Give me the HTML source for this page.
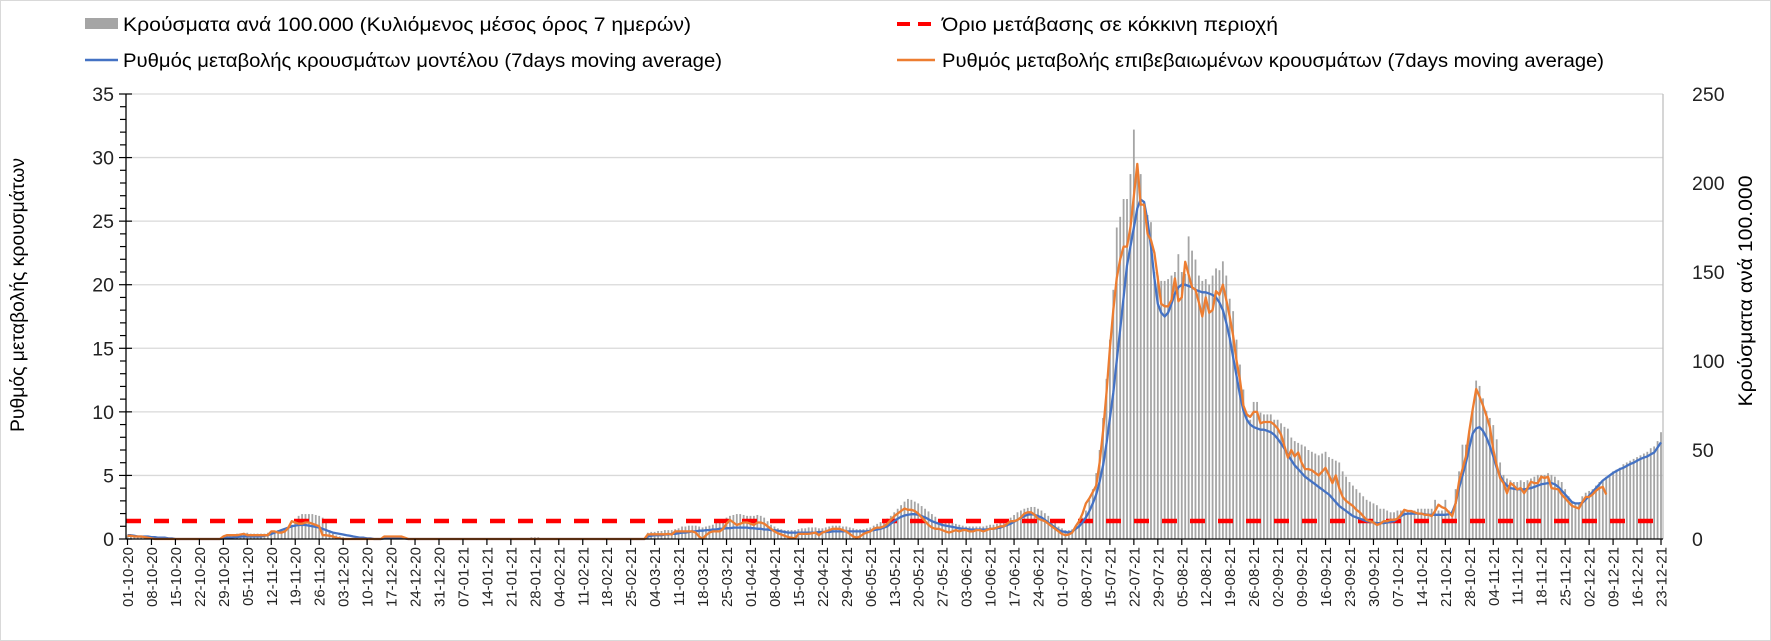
<!DOCTYPE html>
<html><head><meta charset="utf-8"><style>
html,body{margin:0;padding:0;background:#fff;}
svg{display:block;font-family:"Liberation Sans",Arial,sans-serif;}
</style></head><body>
<svg id="chart" width="1771" height="641" viewBox="0 0 1771 641" xmlns="http://www.w3.org/2000/svg">
<rect x="0.5" y="0.5" width="1770" height="640" fill="#fff" stroke="#d9d9d9"/>
<g id="grid"></g>
<g id="bars"></g>
<g id="lines"></g>
<g id="axes"></g>
<g>
  <rect x="85" y="18" width="33" height="11" fill="#a5a5a5"/>
  <text x="123" y="31" font-size="19" textLength="568" lengthAdjust="spacingAndGlyphs">Κρούσματα ανά 100.000 (Κυλιόμενος μέσος όρος 7 ημερών)</text>
  <line x1="85" y1="60" x2="118" y2="60" stroke="#4472c4" stroke-width="2.5"/>
  <text x="123" y="67" font-size="19" textLength="599" lengthAdjust="spacingAndGlyphs">Ρυθμός μεταβολής κρουσμάτων μοντέλου (7days moving average)</text>
  <line x1="897" y1="24" x2="935" y2="24" stroke="#ff0000" stroke-width="4" stroke-dasharray="13,8"/>
  <text x="942" y="31" font-size="19" textLength="336" lengthAdjust="spacingAndGlyphs">Όριο μετάβασης σε κόκκινη περιοχή</text>
  <line x1="897" y1="60" x2="935" y2="60" stroke="#ed7d31" stroke-width="2.5"/>
  <text x="942" y="67" font-size="19" textLength="662" lengthAdjust="spacingAndGlyphs">Ρυθμός μεταβολής επιβεβαιωμένων κρουσμάτων (7days moving average)</text>
</g>
<text transform="translate(24,295) rotate(-90)" text-anchor="middle" font-size="19" textLength="274" lengthAdjust="spacingAndGlyphs">Ρυθμός μεταβολής κρουσμάτων</text>
<text transform="translate(1752,291) rotate(-90)" text-anchor="middle" font-size="19" textLength="231" lengthAdjust="spacingAndGlyphs">Κρούσματα ανά 100.000</text>
</svg>
<script>
const leftTicks=[0,5,10,15,20,25,30,35];
const rightTicks=[0,50,100,150,200,250];
const threshold=[1.42];
const blueVals=[
0.3,0.3,0.25,0.2,0.2,0.2,0.2,0.15,0.15,0.1,
0.1,0.1,0.05,0.05,0,0,0,0,0,0,
0,0,0,0,0,0,0,0,0.05,0.1,
0.1,0.15,0.15,0.2,0.2,0.2,0.2,0.2,0.2,0.2,
0.25,0.3,0.4,0.5,0.6,0.7,0.8,0.9,1.0,1.05,
1.1,1.1,1.1,1.05,1.0,0.95,0.9,0.8,0.7,0.6,
0.5,0.45,0.4,0.35,0.3,0.25,0.2,0.15,0.1,0.1,
0.05,0.05,0,0,0,0.05,0.1,0.1,0.1,0.1,
0.1,0.05,0,0,0,0,0,0,0,0,
0,0,0,0,0,0,0,0,0,0,
0,0,0,0,0,0,0,0,0,0,
0,0,0,0,0,0,0,0,0,0,
0,0,0,0,0,0,0,0,0,0,
0,0,0,0,0,0,0,0,0,0,
0,0,0,0,0,0,0,0,0,0,
0,0,0.2,0.25,0.3,0.3,0.3,0.35,0.35,0.4,
0.4,0.45,0.5,0.5,0.55,0.6,0.6,0.65,0.65,0.7,
0.7,0.75,0.75,0.8,0.8,0.85,0.85,0.9,0.9,0.9,
0.9,0.9,0.85,0.85,0.8,0.8,0.75,0.75,0.7,0.7,
0.65,0.6,0.55,0.5,0.5,0.5,0.5,0.5,0.5,0.5,
0.5,0.5,0.55,0.55,0.55,0.55,0.6,0.6,0.6,0.6,
0.6,0.6,0.6,0.6,0.6,0.6,0.6,0.65,0.7,0.75,
0.8,0.9,1.0,1.2,1.4,1.6,1.75,1.85,1.9,1.95,
1.95,1.9,1.8,1.7,1.55,1.4,1.3,1.2,1.1,1.05,
1.0,0.95,0.9,0.85,0.8,0.8,0.75,0.75,0.75,0.75,
0.75,0.75,0.8,0.8,0.85,0.9,1.0,1.1,1.2,1.35,
1.5,1.65,1.8,1.9,1.95,1.9,1.8,1.7,1.5,1.3,
1.1,0.9,0.7,0.6,0.55,0.5,0.6,0.8,1.0,1.3,
1.7,2.2,2.8,3.5,4.5,5.8,7.5,9.5,11.5,14,
16.5,19,21.5,23,24.5,26,26.7,26.5,25,23,
20.5,18.5,17.8,17.5,17.8,18.5,19.3,19.8,20,20,
19.9,19.8,19.6,19.5,19.4,19.4,19.3,19.2,19,18.6,
18,17,15.8,14.3,12.8,11.3,10.1,9.4,9.0,8.8,
8.7,8.6,8.6,8.5,8.4,8.2,7.9,7.5,7.1,6.6,
6.2,5.8,5.5,5.2,4.9,4.7,4.5,4.3,4.1,3.9,
3.7,3.5,3.2,2.9,2.6,2.4,2.2,2.0,1.8,1.7,
1.6,1.5,1.4,1.35,1.3,1.25,1.25,1.25,1.3,1.35,
1.4,1.6,1.8,1.95,2.0,2.0,2.0,2.0,2.0,1.95,
1.9,1.9,1.9,1.9,1.9,1.9,1.95,2.1,2.8,4.0,
5.0,6.0,7.2,8.3,8.7,8.8,8.5,8.0,7.3,6.5,
5.6,5.0,4.5,4.2,4.0,3.95,3.9,3.9,3.9,3.95,
4.0,4.1,4.2,4.3,4.35,4.4,4.4,4.3,4.1,3.8,
3.5,3.2,2.9,2.8,2.8,2.85,3.1,3.4,3.7,4.0,
4.3,4.6,4.8,5.0,5.2,5.35,5.5,5.6,5.75,5.9,
6.0,6.15,6.3,6.4,6.5,6.65,6.8,7.2,7.6];
const orangeVals=[
0.25,0.25,0.2,0.2,0.2,0.15,0.1,0.05,0,0,
0,0,0,0,0,0,0,0,0,0,
0,0,0,0,0,0,0,0,0.2,0.3,
0.3,0.3,0.3,0.35,0.4,0.3,0.3,0.3,0.3,0.3,
0.3,0.3,0.6,0.6,0.5,0.5,0.6,0.9,1.4,1.3,
1.2,1.2,1.3,1.3,1.2,1.1,1.0,0.3,0.3,0.25,
0.2,0.1,0.05,0,0,0,0,0,0,0,
0,0,0,0,0,0.2,0.2,0.2,0.2,0.2,
0.2,0.1,0,0,0,0,0,0,0,0,
0,0,0,0,0,0,0,0,0,0,
0,0,0,0,0,0,0,0,0,0,
0,0,0,0,0,0,0,0,0,0,
0,0,0,0,0,0,0,0,0,0,
0,0,0,0,0,0,0,0,0,0,
0,0,0,0,0,0,0,0,0,0,
0,0,0.35,0.37,0.37,0.37,0.37,0.37,0.4,0.35,
0.6,0.6,0.6,0.6,0.6,0.6,0.5,0.2,0.0,0.3,
0.5,0.6,0.6,0.6,0.8,1.2,1.5,1.3,1.1,1.2,
1.3,1.3,1.2,1.1,1.3,1.3,1.2,1.0,0.8,0.6,
0.45,0.35,0.25,0.15,0.1,0.05,0.4,0.4,0.4,0.4,
0.45,0.5,0.3,0.5,0.6,0.7,0.8,0.8,0.8,0.7,
0.6,0.4,0.2,0.1,0.2,0.4,0.5,0.6,0.8,0.9,
0.9,1.0,1.2,1.5,1.8,2.0,2.2,2.4,2.3,2.3,
2.2,2.0,1.7,1.4,1.1,0.9,0.8,0.8,0.7,0.6,
0.5,0.6,0.7,0.6,0.7,0.7,0.6,0.6,0.7,0.7,
0.6,0.7,0.8,0.8,0.9,1.0,1.0,1.2,1.4,1.4,
1.5,1.7,2.0,2.1,2.1,1.9,1.6,1.5,1.4,1.2,
1.0,0.8,0.6,0.4,0.3,0.35,0.5,1.0,1.4,2.0,
2.8,3.2,3.7,4.2,6.0,8.5,11.5,15,18,20.5,
22,23,23,24.5,27,29.5,26.3,26.3,24,23.5,
22.5,20.5,18.5,18.3,18.3,18.8,20.5,18.7,19,21.8,
20.8,19.8,19.6,18.6,17.5,19,17.8,18,19.5,19.2,
20,18.8,17.5,16,14,12.5,10.5,9.8,9.6,10,
10,9.1,9.2,9.2,9.2,9.0,8.7,8.2,7.3,6.4,
7.0,6.5,6.8,6.0,5.5,5.5,5.4,5.2,5.0,5.3,
5.6,5.0,4.4,5.0,4.0,3.3,3.0,2.8,2.6,2.3,
2.1,1.8,1.5,1.4,1.3,1.1,1.2,1.4,1.4,1.5,
1.5,1.6,1.9,2.3,2.2,2.2,2.1,2.0,2.0,1.9,
1.9,1.8,2.2,2.7,2.5,2.4,2.1,1.8,2.8,4.5,
5.5,6.5,8.5,10.2,11.8,11.2,10.5,9.7,8.8,7.0,
5.8,4.8,4.4,3.6,4.4,4.2,3.9,4.0,3.6,4.0,
4.5,4.4,4.4,4.9,4.8,4.9,4.0,3.95,3.9,3.5,
3.2,2.9,2.6,2.5,2.4,2.9,3.3,3.3,3.5,3.8,
4.0,4.1,3.5];
const barVals=[
2,2,2,1.5,1.5,1.5,1,1,1,0.5,
0.5,0.5,0,0,0,0,0,0,0,0,
0,0,0,0,0,0,0,0,1.5,2,
2.5,2.5,3,3,3.5,3.5,3,3,3,3,
3,3.5,4,4.5,5,5.5,6,7,8,10,
13,14,14,14,14,13.5,13,12,10,5,
3,2,1.5,1,0.5,0.5,0,0,0,0,
0,0,0,0,0,1,1,1,1,1,
1,0.5,0,0,0,0,0,0,0,0,
0,0,0,0,0,0,0,0,0,0,
0,0,0,0,0,0,0,0,0,0,
0,0,0,0,0,0,0,0,1,1,
1,0.5,0,0,0,0,0,0,0,0,
0,0,0,0,0,0,0,0,0,0,
0,0,0,0,0,0,0,0,0,0,
0,0,3.5,4,4,4.5,4.5,5,5,5,
5.5,6,7,7,7.5,7.5,7.5,7,6.5,7,
7.5,8,9,10,11,12,13,13.5,14,14,
13.5,13,13,13,13.5,13,12,10,8,7,
6,5.5,5,5,5,5,5.5,6,6,6.5,
6.5,6.5,6,6,6.5,7,7.5,7.5,7.5,7,
7,6.5,6,5.5,5.5,5.5,6,6.5,7.5,8.5,
9.5,10.5,11.5,13,15,17,19,21,22.5,22,
21,20,18.5,17,15.5,14,12.5,11,10.5,10,
9.5,9,8.5,8,7.5,7,7,7,7,7,
7,7.5,8,8,8.5,9,10,11,12,13.5,
15,16,17,17.5,18,18,17,16,14.5,13,
11,9,7,6,5,5,5.5,7,9,12,
16,22,28,37,50,68,90,112,140,175,
181,191,191,205,230,205,205,186,182,178,
150,148,145,145,146,148,150,160,150,149,
170,162,157,148,145,146,143,148,152,151,
156,148,135,128,112,98,84,70,67,77,
77,71,70,70,70,67,67,65,63,62,
57,55,54,53,52,50,49,48,47,48,
49,46,45,44,43,38,35,32,30,28,
26,24,22,21,20,19,17,17,16,15,
15,16,16,16,16,16,16,17,17,17,
17,17,22,16,16,22,16,16,28,38,
53,53,61,73,89,86,79,72,68,64,
56,43,36,34,33,32,32,33,32,33,
34,35,36,36,36,37,36,35,33,32,
28,24,21,20,20,24,26,27,28,30,
32,33,35,36,38,39,40,42,43,44,
45,46,47,48,49,51,52,55,60];
const startDate=[2020,10,1];
const nDays=449;

const NS='http://www.w3.org/2000/svg';
const X0=127.5, DX=3.423, YB=539, YT=94, L=126, R=1663;
function xs(i){return X0+i*DX;}
function yl(v){return YB-(v/35)*(YB-YT);}
function yr(v){return YB-(v/250)*(YB-YT);}
function mk(tag,attrs,parent){const e=document.createElementNS(NS,tag);for(const k in attrs)e.setAttribute(k,attrs[k]);parent.appendChild(e);return e;}
const grid=document.getElementById('grid'),bars=document.getElementById('bars'),lines=document.getElementById('lines'),axes=document.getElementById('axes');

leftTicks.forEach(t=>{if(t===0)return;
 const g=mk('line',{x1:L,x2:R,y1:yl(t),y2:yl(t),stroke:'#d9d9d9','stroke-width':1.3},grid);
 
 
});
for(let i=0;i<nDays;i++){const v=barVals[i];if(!v)continue;
 const b=mk('rect',{x:xs(i)-0.9,y:yr(v),width:1.8,height:YB-yr(v),fill:'#a5a5a5'},bars);
 
 
}
const th=mk('line',{x1:L,x2:R,y1:yl(threshold[0]),y2:yl(threshold[0]),stroke:'#ff0000','stroke-width':4.5,'stroke-dasharray':'15,13'},lines);


function path(vals,color,name){let d='';vals.forEach((v,i)=>{if(v==null)return;d+=(d?'L':'M')+xs(i).toFixed(1)+','+yl(v).toFixed(1);});
 const p=mk('path',{d:d,fill:'none',stroke:color,'stroke-width':2.3,'stroke-linejoin':'round'},lines);
 
 
}
path(blueVals,'#4472c4','line-model-rate');
path(orangeVals,'#ed7d31','line-confirmed-rate');

const la=mk('line',{x1:L,x2:L,y1:YT,y2:YB,stroke:'#000','stroke-width':1.3},axes);


const ra=mk('line',{x1:R,x2:R,y1:YT,y2:YB,stroke:'#bfbfbf','stroke-width':1.3},axes);


const xa=mk('line',{x1:L,x2:R,y1:YB,y2:YB,stroke:'#000','stroke-width':1.3},axes);


for(let v=0;v<=35;v++){const maj=v%5===0;
 mk('line',{x1:maj?L-7:L-6,x2:maj?L+6:L,y1:yl(v),y2:yl(v),stroke:'#000','stroke-width':1.2},axes);
}
leftTicks.forEach(t=>{const e=mk('text',{x:114,y:yl(t)+7,'text-anchor':'end','font-size':19.5,fill:'#222'},axes);e.textContent=t;
 
 
});
rightTicks.forEach(t=>{const e=mk('text',{x:1692,y:yr(t)+7,'font-size':19.5,fill:'#222'},axes);e.textContent=t;
 
 
});
const d0=new Date(Date.UTC(startDate[0],startDate[1]-1,startDate[2]));
function pad(n){return (n<10?'0':'')+n;}
for(let i=0;i<nDays;i+=7){
 mk('line',{x1:xs(i),x2:xs(i),y1:YB,y2:YB+6,stroke:'#000','stroke-width':1.2},axes);
 const dt=new Date(d0.getTime()+i*86400000);
 const lab=pad(dt.getUTCDate())+'-'+pad(dt.getUTCMonth()+1)+'-'+pad(dt.getUTCFullYear()%100);
 const e=mk('text',{transform:'translate('+(xs(i)+5.5)+','+(YB+8)+') rotate(-90)','text-anchor':'end','font-size':15,fill:'#222'},axes);
 e.textContent=lab;
 
 
}
</script>
</body></html>
